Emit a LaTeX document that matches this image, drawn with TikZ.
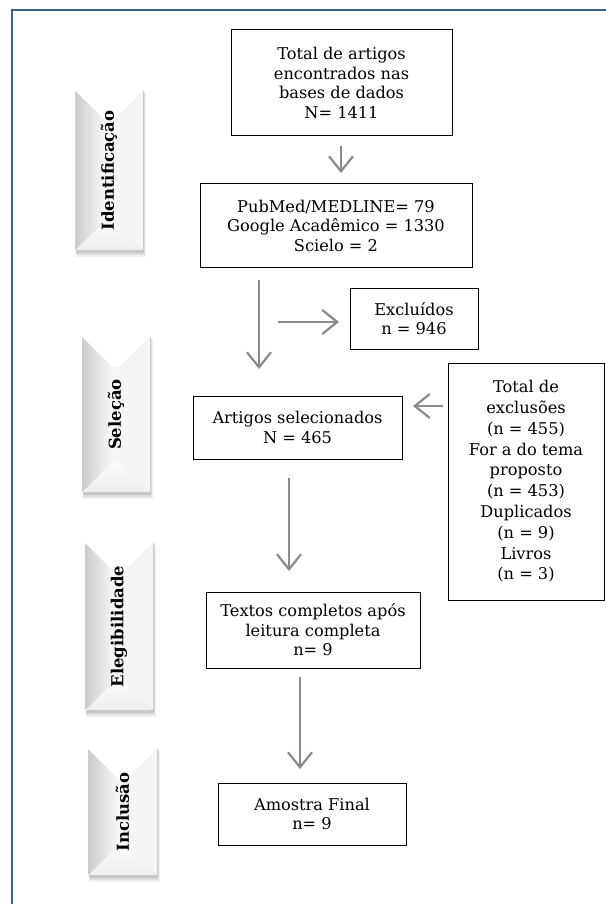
\documentclass[tikz,border=0pt]{standalone}
\usepackage{fontspec}
\setmainfont{DejaVu Serif}
\usetikzlibrary{arrows.meta}
\definecolor{framecol}{HTML}{36608F}
\definecolor{arrowcol}{HTML}{8A8A8A}
\tikzset{
  box/.style={draw=black, line width=1pt, align=center, inner sep=0pt,
    font=\fontsize{16.2}{19.5}\selectfont},
  flow/.style={draw=arrowcol, line width=2.6pt,
    -{Straight Barb[length=15pt,width=24pt,line width=2.2pt]}},
  phaselabel/.style={rotate=90, font=\bfseries\fontsize{16.5}{18}\selectfont, inner sep=0pt}
}
\newcommand\phasebox[6]{%
  \pgfmathsetmacro\dd{0.44*(#4-#2)}
  \fill[black,opacity=0.06] (#2+1,#3+2) rectangle (#4+3,#5+7);
  \fill[black,opacity=0.08] (#2+1,#3+2) rectangle (#4+2,#5+5);
  \fill[black,opacity=0.10] (#2+1,#3+1) rectangle (#4+1,#5+3);
  \fill[gray!6] (#2+\dd,#3+\dd) rectangle (#4-\dd,#5-\dd);
  \fill[white] (#2,#3) -- (#4,#3) -- (#4-\dd,#3+\dd) -- (#2+\dd,#3+\dd) -- cycle;
  \fill[gray!8] (#4,#3) -- (#4,#5) -- (#4-\dd,#5-\dd) -- (#4-\dd,#3+\dd) -- cycle;
  \shade[top color=gray!3, bottom color=gray!14] (#2,#5) -- (#4,#5) -- (#4-\dd,#5-\dd) -- (#2+\dd,#5-\dd) -- cycle;
  \shade[left color=gray!40, right color=gray!5] (#2,#3) -- (#2+\dd,#3+\dd) -- (#2+\dd,#5-\dd) -- (#2,#5) -- cycle;
  \draw[gray!40, line width=1pt] (#4,#3) -- (#4,#5);
  \node[phaselabel] (#1) at ({(#2+#4)/2},{(#3+#5)/2}) {#6};
}
\begin{document}
\begin{tikzpicture}[x=1pt,y=-1pt]
\useasboundingbox (0,0) rectangle (605,904);
\fill[white] (0,0) rectangle (605,904);
\draw[framecol, line width=1.6pt] (12,10) rectangle (625,925);

% phase labels
\phasebox{s1}{75}{91}{143}{250}{Identificação}
\phasebox{s2}{82}{337}{150}{492}{Seleção}
\phasebox{s3}{85}{543}{153}{710}{Elegibilidade}
\phasebox{s4}{88}{749}{157}{875}{Inclusão}

% boxes
\node[box, minimum width=221, minimum height=106] (b1) at (341.5,83)
  {Total de artigos\\encontrados nas\\bases de dados\\N= 1411};
\node[box, minimum width=272, minimum height=83] (b2) at (336,225.5)
  {PubMed/MEDLINE= 79\\Google Acadêmico = 1330\\Scielo = 2};
\node[box, minimum width=128, minimum height=61] (b3) at (414,318.5)
  {Excluídos\\n = 946};
\node[box, minimum width=209, minimum height=63] (b4) at (297.5,427.5)
  {Artigos selecionados\\N = 465};
\node[box, minimum width=156, minimum height=237, font=\fontsize{16.2}{20.8}\selectfont] (b5) at (526,481.5)
  {Total de\\exclusões\\(n = 455)\\For a do tema\\proposto\\(n = 453)\\Duplicados\\(n = 9)\\Livros\\(n = 3)};
\node[box, minimum width=214, minimum height=76] (b6) at (313,630)
  {Textos completos após\\leitura completa\\n= 9};
\node[box, minimum width=188, minimum height=62] (b7) at (312,814)
  {Amostra Final\\n= 9};

% arrow end points
\coordinate (a1s) at (341,146);
\coordinate (a1e) at (341,173);
\coordinate (a2s) at (259,280);
\coordinate (a2e) at (259,369);
\coordinate (a3s) at (278,322);
\coordinate (a3e) at (339,322);
\coordinate (a4s) at (443,406);
\coordinate (a4e) at (413,406);
\coordinate (a5s) at (289,478);
\coordinate (a5e) at (289,571);
\coordinate (a6s) at (300,677);
\coordinate (a6e) at (300,769);

\draw[flow] (a1s) -- (a1e);
\draw[flow] (a2s) -- (a2e);
\draw[flow] (a3s) -- (a3e);
\draw[flow] (a4s) -- (a4e);
\draw[flow] (a5s) -- (a5e);
\draw[flow] (a6s) -- (a6e);
\end{tikzpicture}
\end{document}
